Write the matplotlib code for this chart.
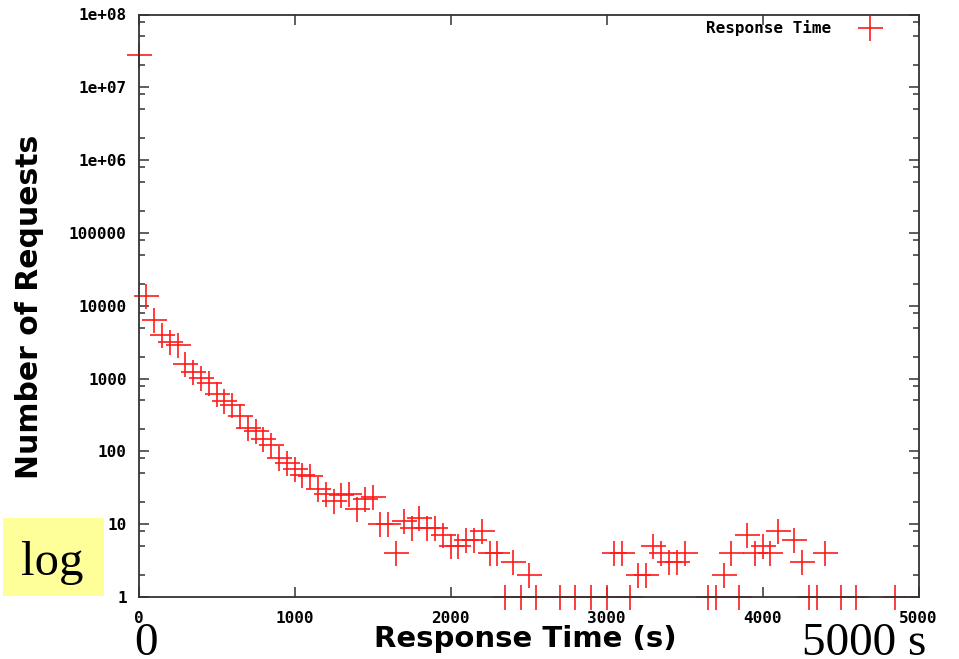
import numpy as np
import matplotlib
matplotlib.use('Agg')
import matplotlib.pyplot as plt
from matplotlib.ticker import FixedLocator, LogLocator, NullFormatter

# Response time bins (s) and number of requests
response_time = [0, 50, 100, 150, 200, 250, 300, 350, 400, 450,
                 500, 550, 600, 650, 700, 750, 800, 850, 900, 950,
                 1000, 1050, 1100, 1150, 1200, 1250, 1300, 1350, 1400, 1450,
                 1500, 1550, 1600, 1650, 1700, 1750, 1800, 1850, 1900, 1950,
                 2000, 2050, 2100, 2150, 2200, 2250, 2300, 2350, 2400, 2450,
                 2500, 2550, 2700, 2800, 2900, 3000, 3050, 3100, 3150, 3200,
                 3250, 3300, 3350, 3400, 3450, 3500, 3650, 3700, 3750, 3800,
                 3850, 3900, 3950, 4000, 4050, 4100, 4200, 4250, 4300, 4350,
                 4400, 4500, 4600, 4850]
num_requests = [2.75e7, 13500, 6300, 4000, 3200, 2900, 1570, 1230, 1020, 880,
                610, 490, 430, 307, 210, 189, 150, 122, 81, 69,
                57, 47, 46, 30, 26, 21, 25, 26, 16, 22,
                24, 10, 10, 4, 11, 9, 12, 9, 9, 7,
                5, 5, 6, 6, 8, 4, 4, 1, 3, 1,
                2, 1, 1, 1, 1, 1, 4, 4, 1, 2,
                2, 5, 4, 3, 3, 4, 1, 1, 2, 4,
                1, 7, 4, 5, 4, 8, 6, 3, 1, 1,
                4, 1, 1, 1]

x_ticks = [0, 1000, 2000, 3000, 4000, 5000]
y_ticks = [1, 10, 100, 1000, 10000, 100000, 1e6, 1e7, 1e8]
y_tick_labels = ['1', '10', '100', '1000', '10000', '100000',
                 '1e+06', '1e+07', '1e+08']

mono = dict(family='DejaVu Sans Mono', weight='bold', size=11.5)

fig = plt.figure(figsize=(9.59, 6.59), dpi=100)
ax = fig.add_axes([138.5 / 959, 1 - 597 / 659, 780 / 959, 582.5 / 659])

ax.plot(response_time, num_requests, linestyle='none', marker='+',
        markersize=18, markeredgewidth=1.2, color='#ff1a1a',
        clip_on=False, label='Response Time', zorder=2)

ax.set_yscale('log')
ax.set_xlim(0, 5000)
ax.set_ylim(1, 1e8)

ax.xaxis.set_major_locator(FixedLocator(x_ticks))
ax.set_xticklabels([str(t) for t in x_ticks], fontdict=mono)
ax.yaxis.set_major_locator(FixedLocator(y_ticks))
ax.set_yticklabels(y_tick_labels, fontdict=mono)
ax.yaxis.set_minor_locator(LogLocator(base=10, subs=[2, 5, 8], numticks=20))
ax.yaxis.set_minor_formatter(NullFormatter())
ax.xaxis.set_minor_locator(FixedLocator([]))

ax.tick_params(which='both', direction='in', top=True, right=True,
               color='#333333', width=1.1)
ax.tick_params(which='major', length=7)
ax.tick_params(which='minor', length=4)
ax.tick_params(axis='x', pad=10)
ax.tick_params(axis='y', pad=8.5)

for sp in ax.spines.values():
    sp.set_color('#333333')
    sp.set_linewidth(1.3)
    sp.set_zorder(3)

leg = ax.legend(loc='upper right', bbox_to_anchor=(0.958, 0.99),
                frameon=False, markerfirst=False, borderpad=0,
                borderaxespad=0, handlelength=2, handletextpad=1.45,
                prop=mono)

fig.text(30 / 959, 1 - 307 / 659, 'Number of Requests', rotation=90,
         ha='center', va='center', fontsize=21.5, fontweight='bold',
         family='DejaVu Sans')
fig.text(525 / 959, 1 - 646.7 / 659, 'Response Time (s)', ha='center',
         va='baseline', fontsize=21, fontweight='bold', family='DejaVu Sans')

# slide overlays
fig.patches.append(plt.Rectangle((3.3 / 959, 1 - 595.7 / 659), 100.7 / 959,
                                 78 / 659, transform=fig.transFigure,
                                 facecolor='#ffff99', edgecolor='none'))
fig.text(51.7 / 959, 1 - 575 / 659, 'log', ha='center', va='baseline',
         fontsize=35, family='Liberation Serif')
fig.text(146 / 959, 1 - 655 / 659, '0', ha='center', va='baseline',
         fontsize=34, family='Liberation Serif')
fig.text(864.5 / 959, 1 - 655 / 659, '5000 s', ha='center', va='baseline',
         fontsize=34, family='Liberation Serif')

fig.savefig('out.png', dpi=100)
